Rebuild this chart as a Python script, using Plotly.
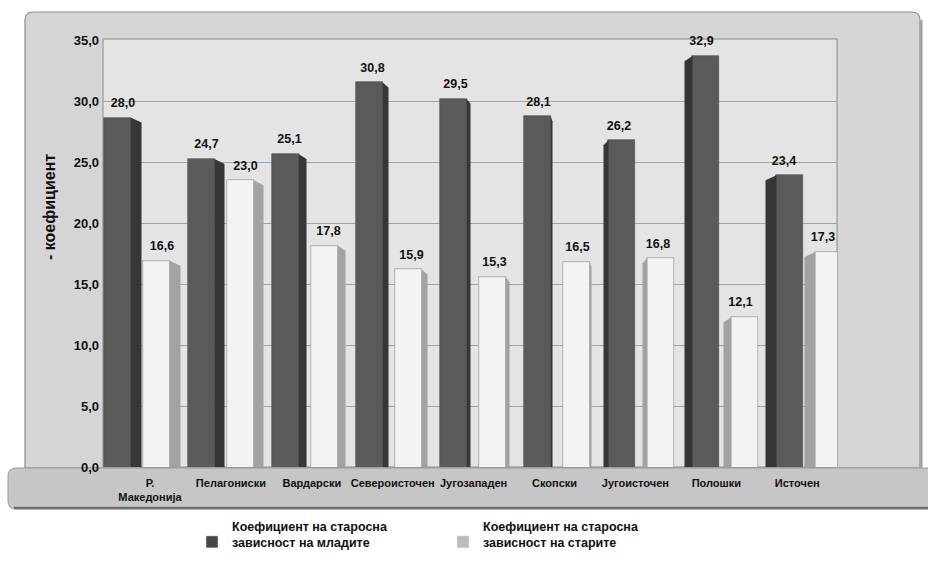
import plotly.graph_objects as go

# ---------------- data ----------------
categories = ["Р.<br>Македонија", "Пелагониски", "Вардарски", "Североисточен",
              "Југозападен", "Скопски", "Југоисточен", "Полошки", "Источен"]
young = [28.0, 24.7, 25.1, 30.8, 29.5, 28.1, 26.2, 32.9, 23.4]
old = [16.6, 23.0, 17.8, 15.9, 15.3, 16.5, 16.8, 12.1, 17.3]
series_names = ["Коефициент на старосна<br>зависност на младите",
                "Коефициент на старосна<br>зависност на старите"]
y_ticks = [0, 5, 10, 15, 20, 25, 30, 35]
y_title = "- коефициент"

# ---------------- layout constants (pixels) ----------------
W, H = 928, 570
L, R, T, B = 103, 837, 40, 467
GROUP0_PX, GROUP_PX = 137, 84
FRONT_W = 0.31
DARK_OFF, LIGHT_OFF = -0.232, 0.232
SIDE_PX = [11, 10, 8, 6, 4, 2, -5, -8, -11]   # 3D side-face width (neg = left)
DROP = 0.4                                      # slant of side top (data units)
# front plane of the 3D chart is slightly magnified vs. the back wall grid
FRONT_ZERO_PX, FRONT_SCALE = 469, 12.55         # pixel of 0 and px per unit
FONT = "Liberation Sans, Arial"

def fx(x):
    return (x - L) / (R - L)

def fy(y):
    return (B - y) / (B - T)

def fmt(v):
    return f"{v:.1f}".replace(".", ",")

n = len(categories)
xs = list(range(n))
xrange_ = [(L - GROUP0_PX) / GROUP_PX, (R - GROUP0_PX) / GROUP_PX]
y2range = [(FRONT_ZERO_PX - B) / FRONT_SCALE, (FRONT_ZERO_PX - T) / FRONT_SCALE]

fig = go.Figure()

DARK_FRONT, DARK_SIDE = "#5b5b5b", "#363636"
LIGHT_FRONT, LIGHT_SIDE = "#f3f3f3", "#a2a2a2"

for vals, off, front, side, edge in [(young, DARK_OFF, DARK_FRONT, DARK_SIDE, "#4a4a4a"),
                                     (old, LIGHT_OFF, LIGHT_FRONT, LIGHT_SIDE, "#8a8a8a")]:
    centers = [i + off for i in xs]
    # 3D side faces
    for i, v in enumerate(vals):
        w = SIDE_PX[i] / GROUP_PX
        e = centers[i] + FRONT_W / 2 if w >= 0 else centers[i] - FRONT_W / 2
        fig.add_trace(go.Scatter(
            x=[e, e, e + w, e + w, e], y=[-1, v, v - DROP, -1, -1], yaxis="y2",
            mode="lines", fill="toself", fillcolor=side,
            line=dict(width=0, color=side), hoverinfo="skip", showlegend=False))
    # front faces
    fig.add_trace(go.Bar(
        x=centers, y=vals, width=FRONT_W, yaxis="y2",
        marker=dict(color=front, line=dict(width=0.6, color=edge)),
        showlegend=False, hoverinfo="skip"))
    # value labels
    fig.add_trace(go.Scatter(
        x=[c + SIDE_PX[i] / GROUP_PX / 2 for i, c in enumerate(centers)],
        y=[v + 0.6 for v in vals], mode="text", yaxis="y2", cliponaxis=False,
        text=[fmt(v) for v in vals], texttemplate="<b>%{text}</b>",
        textposition="top center",
        textfont=dict(family=FONT, size=12.5, color="#111"),
        hoverinfo="skip", showlegend=False))

# legend entries
fig.add_trace(go.Bar(x=[None], y=[None], name="<b>" + series_names[0] + "</b>",
                     marker=dict(color="#474747"), showlegend=True))
fig.add_trace(go.Bar(x=[None], y=[None], name="<b>" + series_names[1] + "</b>",
                     marker=dict(color="#bcbcbc"), showlegend=True))

# x tick label positions (offset as in the original 3D layout)
label_x = [i + (13 - 3.1 * i) / GROUP_PX for i in xs]

shapes = []
# outer panel
x0, y0, x1, y1, r = 25, 12, 920, 468, 8
shapes.append(dict(
    type="path", xref="paper", yref="paper", layer="below",
    path=(f"M {fx(x0+r)} {fy(y0)} L {fx(x1-r)} {fy(y0)} Q {fx(x1)} {fy(y0)} {fx(x1)} {fy(y0+r)} "
          f"L {fx(x1)} {fy(y1)} L {fx(x0)} {fy(y1)} L {fx(x0)} {fy(y0+r)} Q {fx(x0)} {fy(y0)} {fx(x0+r)} {fy(y0)} Z"),
    fillcolor="#d5d5d5", line=dict(color="#8e8e8e", width=1.2)))
shapes.append(dict(type="line", xref="paper", yref="paper", layer="below",
                   x0=fx(921.5), x1=fx(921.5), y0=fy(20), y1=fy(468),
                   line=dict(color="#9a9a9a", width=2)))
# inner back wall
shapes.append(dict(type="rect", xref="paper", yref="paper", layer="below",
                   x0=fx(103), x1=fx(837), y0=fy(467), y1=fy(39),
                   fillcolor="#e4e4e4", line=dict(color="#8a8a8a", width=1)))
# floor band
fx0, fy0, fx1, fy1, fr = 8, 468, 935, 509, 8
shapes.append(dict(
    type="path", xref="paper", yref="paper", layer="below",
    path=(f"M {fx(fx0+fr)} {fy(fy0)} L {fx(fx1)} {fy(fy0)} L {fx(fx1)} {fy(fy1)} "
          f"L {fx(fx0+fr)} {fy(fy1)} Q {fx(fx0)} {fy(fy1)} {fx(fx0)} {fy(fy1-fr)} "
          f"L {fx(fx0)} {fy(fy0+fr)} Q {fx(fx0)} {fy(fy0)} {fx(fx0+fr)} {fy(fy0)} Z"),
    fillcolor="#c6c6c6", line=dict(color="#9a9a9a", width=1)))
shapes.append(dict(type="line", xref="paper", yref="paper", layer="below",
                   x0=fx(14), x1=fx(928), y0=fy(508), y1=fy(508),
                   line=dict(color="#6e6e6e", width=2.5)))

annotations = [dict(
    text="<b>" + y_title + "</b>", xref="paper", yref="paper", x=fx(49), y=fy(207),
    textangle=-90, showarrow=False, xanchor="center", yanchor="middle",
    font=dict(family=FONT, size=16, color="#111"))]

fig.update_layout(
    width=W, height=H,
    margin=dict(l=L, r=W - R, t=T, b=H - B, pad=0, autoexpand=False),
    paper_bgcolor="white", plot_bgcolor="rgba(0,0,0,0)",
    barmode="overlay", bargap=0,
    font=dict(family=FONT, color="#111"),
    xaxis=dict(range=xrange_, tickmode="array", tickvals=label_x,
               ticktext=[f"<b>{c}</b>" for c in categories],
               tickfont=dict(size=11, color="#111"), showgrid=False,
               zeroline=False, showline=False, ticks="", ticklabelstandoff=8),
    yaxis=dict(range=[0, 35], tickmode="array", tickvals=y_ticks,
               ticktext=[f"<b>{fmt(v)}</b>" for v in y_ticks],
               tickfont=dict(size=13, color="#111"),
               showgrid=True, gridcolor="#a3a3a3", gridwidth=1,
               zeroline=False, showline=False, ticks="", ticklabelstandoff=3),
    yaxis2=dict(range=y2range, overlaying="y", visible=False),
    legend=dict(orientation="h", x=fx(192), xanchor="left", y=fy(511), yanchor="top",
                font=dict(size=12.5, color="#111", family=FONT),
                entrywidth=206, entrywidthmode="pixels", valign="bottom",
                bgcolor="rgba(0,0,0,0)", itemclick=False),
    shapes=shapes, annotations=annotations,
)

fig.write_html("out.html", config={"displayModeBar": False},
               post_script="document.body.style.margin='0px';")
